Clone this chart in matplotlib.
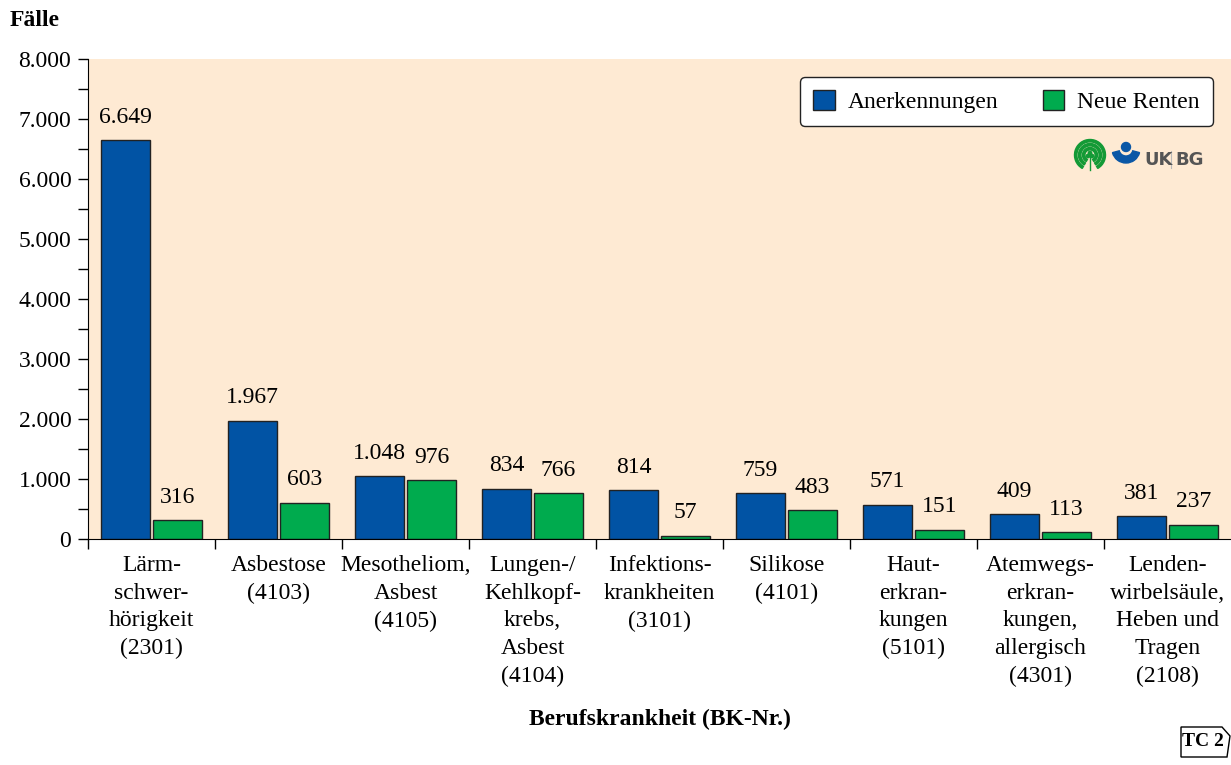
import matplotlib.pyplot as plt
import numpy as np
from matplotlib.patches import Circle, Wedge, Polygon
from matplotlib.ticker import FuncFormatter, MultipleLocator

plt.rcParams['font.family'] = ['Liberation Serif', 'DejaVu Serif']

categories = ['Lärm-\nschwer-\nhörigkeit\n(2301)', 'Asbestose\n(4103)', 'Mesotheliom,\nAsbest\n(4105)',
              'Lungen-/\nKehlkopf-\nkrebs,\nAsbest\n(4104)', 'Infektions-\nkrankheiten\n(3101)',
              'Silikose\n(4101)', 'Haut-\nerkran-\nkungen\n(5101)', 'Atemwegs-\nerkran-\nkungen,\nallergisch\n(4301)',
              'Lenden-\nwirbelsäule,\nHeben und\nTragen\n(2108)']
anerkennungen = [6649, 1967, 1048, 834, 814, 759, 571, 409, 381]
neue_renten = [316, 603, 976, 766, 57, 483, 151, 113, 237]

blue = '#0153a4'
green = '#00ab4e'
bg = '#feead3'
fs = 17

fig = plt.figure(figsize=(12.31, 7.65), dpi=100)
ax = fig.add_axes([88/1231, 1 - 539/765, 1 - 88/1231, (539 - 59)/765])
ax.set_facecolor(bg)

x = np.arange(len(categories))
w = 0.39
b1 = ax.bar(x - 0.205, anerkennungen, w, color=blue, edgecolor='#222222', linewidth=1.0, label='Anerkennungen')
b2 = ax.bar(x + 0.205, neue_renten, w, color=green, edgecolor='#222222', linewidth=1.0, label='Neue Renten')

fmt = lambda v: f'{v:,}'.replace(',', '.')
for bars, vals in ((b1, anerkennungen), (b2, neue_renten)):
    for r, v in zip(bars, vals):
        ax.annotate(fmt(v), (r.get_x() + r.get_width() / 2, v), xytext=(0, 9), textcoords='offset points',
                    ha='center', va='bottom', fontsize=fs)

ax.set_xlim(-0.5, len(categories) - 0.5)
ax.set_ylim(0, 8000)
ax.yaxis.set_major_locator(MultipleLocator(1000))
ax.yaxis.set_minor_locator(MultipleLocator(500))
ax.yaxis.set_major_formatter(FuncFormatter(lambda v, p: fmt(int(v))))
ax.tick_params(axis='y', which='both', direction='out', length=7, width=1, labelsize=fs, pad=5)
ax.set_xticks(np.arange(len(categories)) - 0.5)
ax.set_xticklabels([])
ax.tick_params(axis='x', direction='out', length=7, width=1)
for i, c in enumerate(categories):
    ax.text(i, -265, c, ha='center', va='top', fontsize=fs, linespacing=1.42)

for s in ('top', 'right'):
    ax.spines[s].set_visible(False)

fig.text(10/1231, 1 - 20/765, 'Fälle', fontsize=fs, fontweight='bold', va='center', ha='left')
fig.text(660/1231, 1 - 719/765, 'Berufskrankheit (BK-Nr.)', fontsize=fs, fontweight='bold', va='center', ha='center')

leg = ax.legend(loc='upper right', bbox_to_anchor=(0.984, 0.9625), borderaxespad=0, ncol=2, fontsize=fs,
                frameon=True, fancybox=True, edgecolor='#222222', facecolor='white', framealpha=1,
                handlelength=0.9, handleheight=0.9, columnspacing=1.9, borderpad=0.55, handletextpad=0.55)
leg.get_frame().set_linewidth(1.0)

# logo
lax = fig.add_axes([1072/1231, 1 - 173/765, 140/1231, 36/765])
lax.set_xlim(0, 140)
lax.set_ylim(0, 36)
lax.set_aspect('equal')
lax.axis('off')
for r in (15.5, 11.5, 7.5):
    lax.add_patch(Wedge((18, 18), r, -60, 240, width=2.4, color='#139a36'))
lax.add_patch(Circle((16, 17), 1.7, color='#139a36'))
lax.add_patch(Circle((20, 17), 1.7, color='#139a36'))
lax.add_patch(Circle((18, 20), 1.7, color='#139a36'))
lax.plot([18, 18], [3, 16], color='#139a36', lw=1.0)
lax.add_patch(Wedge((54, 24), 14, 195, 345, width=7, color='#0a57a6'))
lax.add_patch(Circle((54, 26), 4.5, color='#0a57a6'))
lax.text(72, 13, 'UK', fontsize=13, fontweight='bold', color='#555555', family='DejaVu Sans', va='center')
lax.plot([99.5, 99.5], [5, 22], color='#bbbbbb', lw=0.8)
lax.text(103, 13, 'BG', fontsize=13, fontweight='bold', color='#555555', family='DejaVu Sans', va='center')

# TC 2 marker
tax = fig.add_axes([1178/1231, 1 - 762/765, 53/1231, 40/765])
tax.set_xlim(0, 53)
tax.set_ylim(0, 40)
tax.axis('off')
tax.add_patch(Polygon([[3, 5], [3, 35], [44, 35], [52, 26], [49, 5]], closed=True, fill=False,
                      edgecolor='black', lw=1))
tax.text(25, 20, 'TC 2', fontsize=14, fontweight='bold', ha='center', va='center')

fig.savefig('out.png', dpi=100)
